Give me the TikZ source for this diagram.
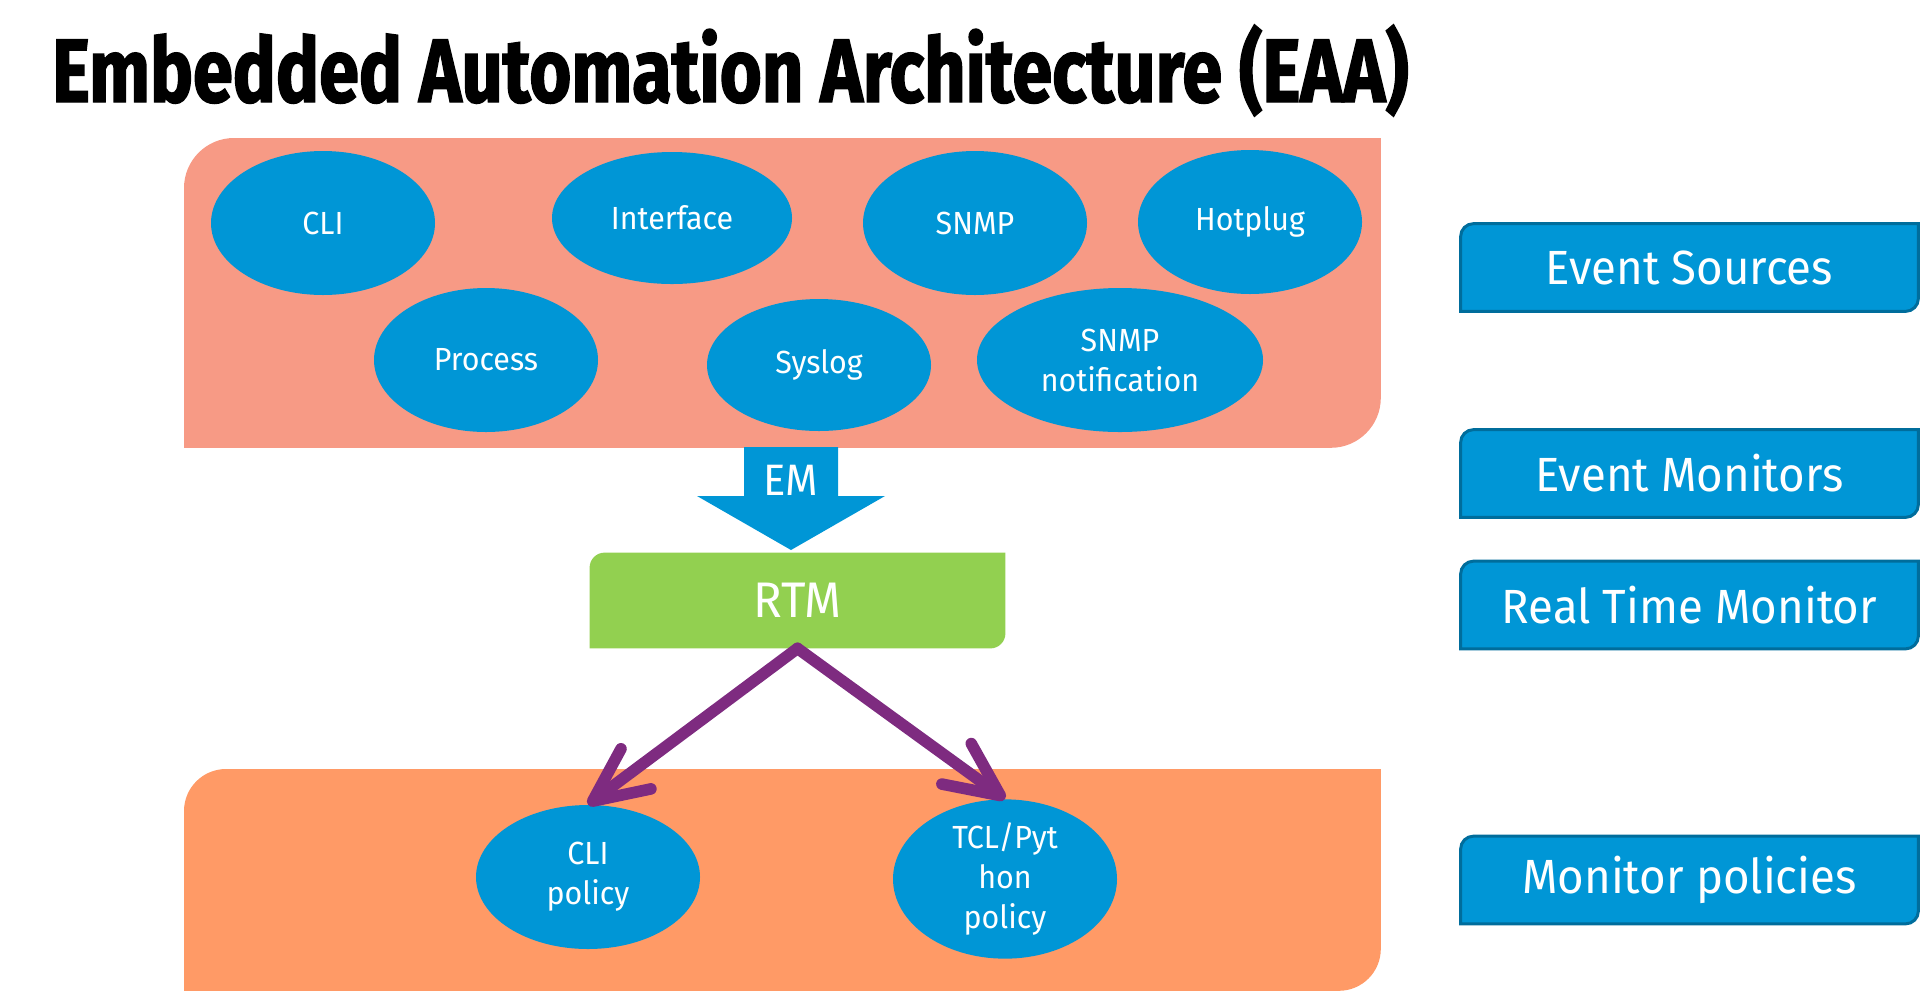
\documentclass[tikz,border=0pt]{standalone}
\usepackage{fontspec}
\setmainfont{Fira Sans}[FakeStretch=0.95]
\newfontfamily\titlefont{Fira Sans}[FakeStretch=0.8, BoldFeatures={FakeBold=1.6}]
\usetikzlibrary{arrows.meta, calc, positioning, shapes.geometric, backgrounds}
\definecolor{srcpink}{HTML}{F79A85}
\definecolor{polorange}{HTML}{FF9A66}
\definecolor{hpblue}{HTML}{0096D6}
\definecolor{hpdkblue}{HTML}{006D9C}
\definecolor{rtmgreen}{HTML}{92D050}
\definecolor{plum}{HTML}{7E2B80}

% box with rounded top-left and bottom-right corners
\newcommand{\diagcorner}[3]{%
  \path[#1] (#2.south west) [rounded corners=#3] -- (#2.north west) [sharp corners]
    -- (#2.north east) [rounded corners=#3] -- (#2.south east) [sharp corners]
    -- cycle;}

\begin{document}
\begin{tikzpicture}[
    x=0.5pt, y=-0.5pt,
    >={Straight Barb[length=27pt, width=25pt, round]},
    every node/.style={text=white},
    evsrc/.style={ellipse, fill=hpblue, inner sep=0pt, minimum width=112pt,
      minimum height=72pt, align=center, font=\fontsize{16}{20}\selectfont},
    lblbox/.style={minimum width=228.5pt, minimum height=43.5pt, inner sep=0pt,
      font=\fontsize{24}{28}\selectfont},
    panel/.style={minimum width=598pt, inner sep=0pt, anchor=north west},
    polarrow/.style={->, line width=5.8pt, plum, line cap=round},
  ]

  \useasboundingbox (0,0) rectangle (1920,992);

  % Title
  \node[anchor=base west, text=black, font=\titlefont\bfseries\fontsize{45}{54}\selectfont]
    (title) at (45,102) {Embedded Automation Architecture (EAA)};

  % Panels
  \node[panel, minimum height=154.5pt] (srcpanel) at (184,138) {};
  \node[panel, minimum height=110.5pt] (polpanel) at (184,769) {};

  % Event sources
  \node[evsrc] (cli) at (323,223) {CLI};
  \node[evsrc, minimum width=120pt, minimum height=66pt] (intf) at (672,218) {Interface};
  \node[evsrc] (snmp) at (975,223) {SNMP};
  \node[evsrc] (hotplug) at (1250,222) {Hotplug};
  \node[evsrc] (proc) at (486,360) {Process};
  \node[evsrc, minimum height=66pt] (syslog) at (819,365) {Syslog};
  \node[evsrc, minimum width=143pt] (snmpnotif) at (1120,360) {SNMP\\notification};

  % RTM
  \node[minimum width=207.5pt, minimum height=47.5pt, font=\fontsize{25}{30}\selectfont]
    (rtm) at (797.5,600.5) {RTM};

  % EM arrow
  \coordinate (emtip) at (791,550);
  \fill[hpblue] (emtip) -- ++(-94,-54) -- ++(47,0) -- ++(0,-49) -- ++(94,0)
    -- ++(0,49) -- ++(47,0) -- cycle;
  \node[font=\fontsize{22}{26}\selectfont] (em) at (791,480) {EM};

  % Policies
  \node[evsrc] (clipol) at (588,877) {CLI\\policy};
  \node[evsrc] (tclpol) at (1005,879) {TCL/Pyt\\hon\\policy};

  \draw[polarrow] (rtm.south) -- (clipol.north);
  \draw[polarrow] (rtm.south) -- (tclpol.north);

  % Legend boxes
  \node[lblbox] (lsrc) at (1689.5,267.5) {Event Sources};
  \node[lblbox] (lmon) at (1689.5,473.5) {Event Monitors};
  \node[lblbox] (lrtm) at (1689.5,605) {Real Time Monitor};
  \node[lblbox] (lpol) at (1689.5,880) {Monitor policies};

  \begin{pgfonlayer}{background}
    \diagcorner{fill=srcpink}{srcpanel}{25pt}
    \diagcorner{fill=polorange}{polpanel}{21pt}
    \diagcorner{fill=rtmgreen}{rtm}{7.5pt}
    \foreach \n in {lsrc, lmon, lrtm, lpol}{
      \diagcorner{fill=hpblue, draw=hpdkblue, line width=1.5pt}{\n}{6.5pt}}
  \end{pgfonlayer}

\end{tikzpicture}
\end{document}
